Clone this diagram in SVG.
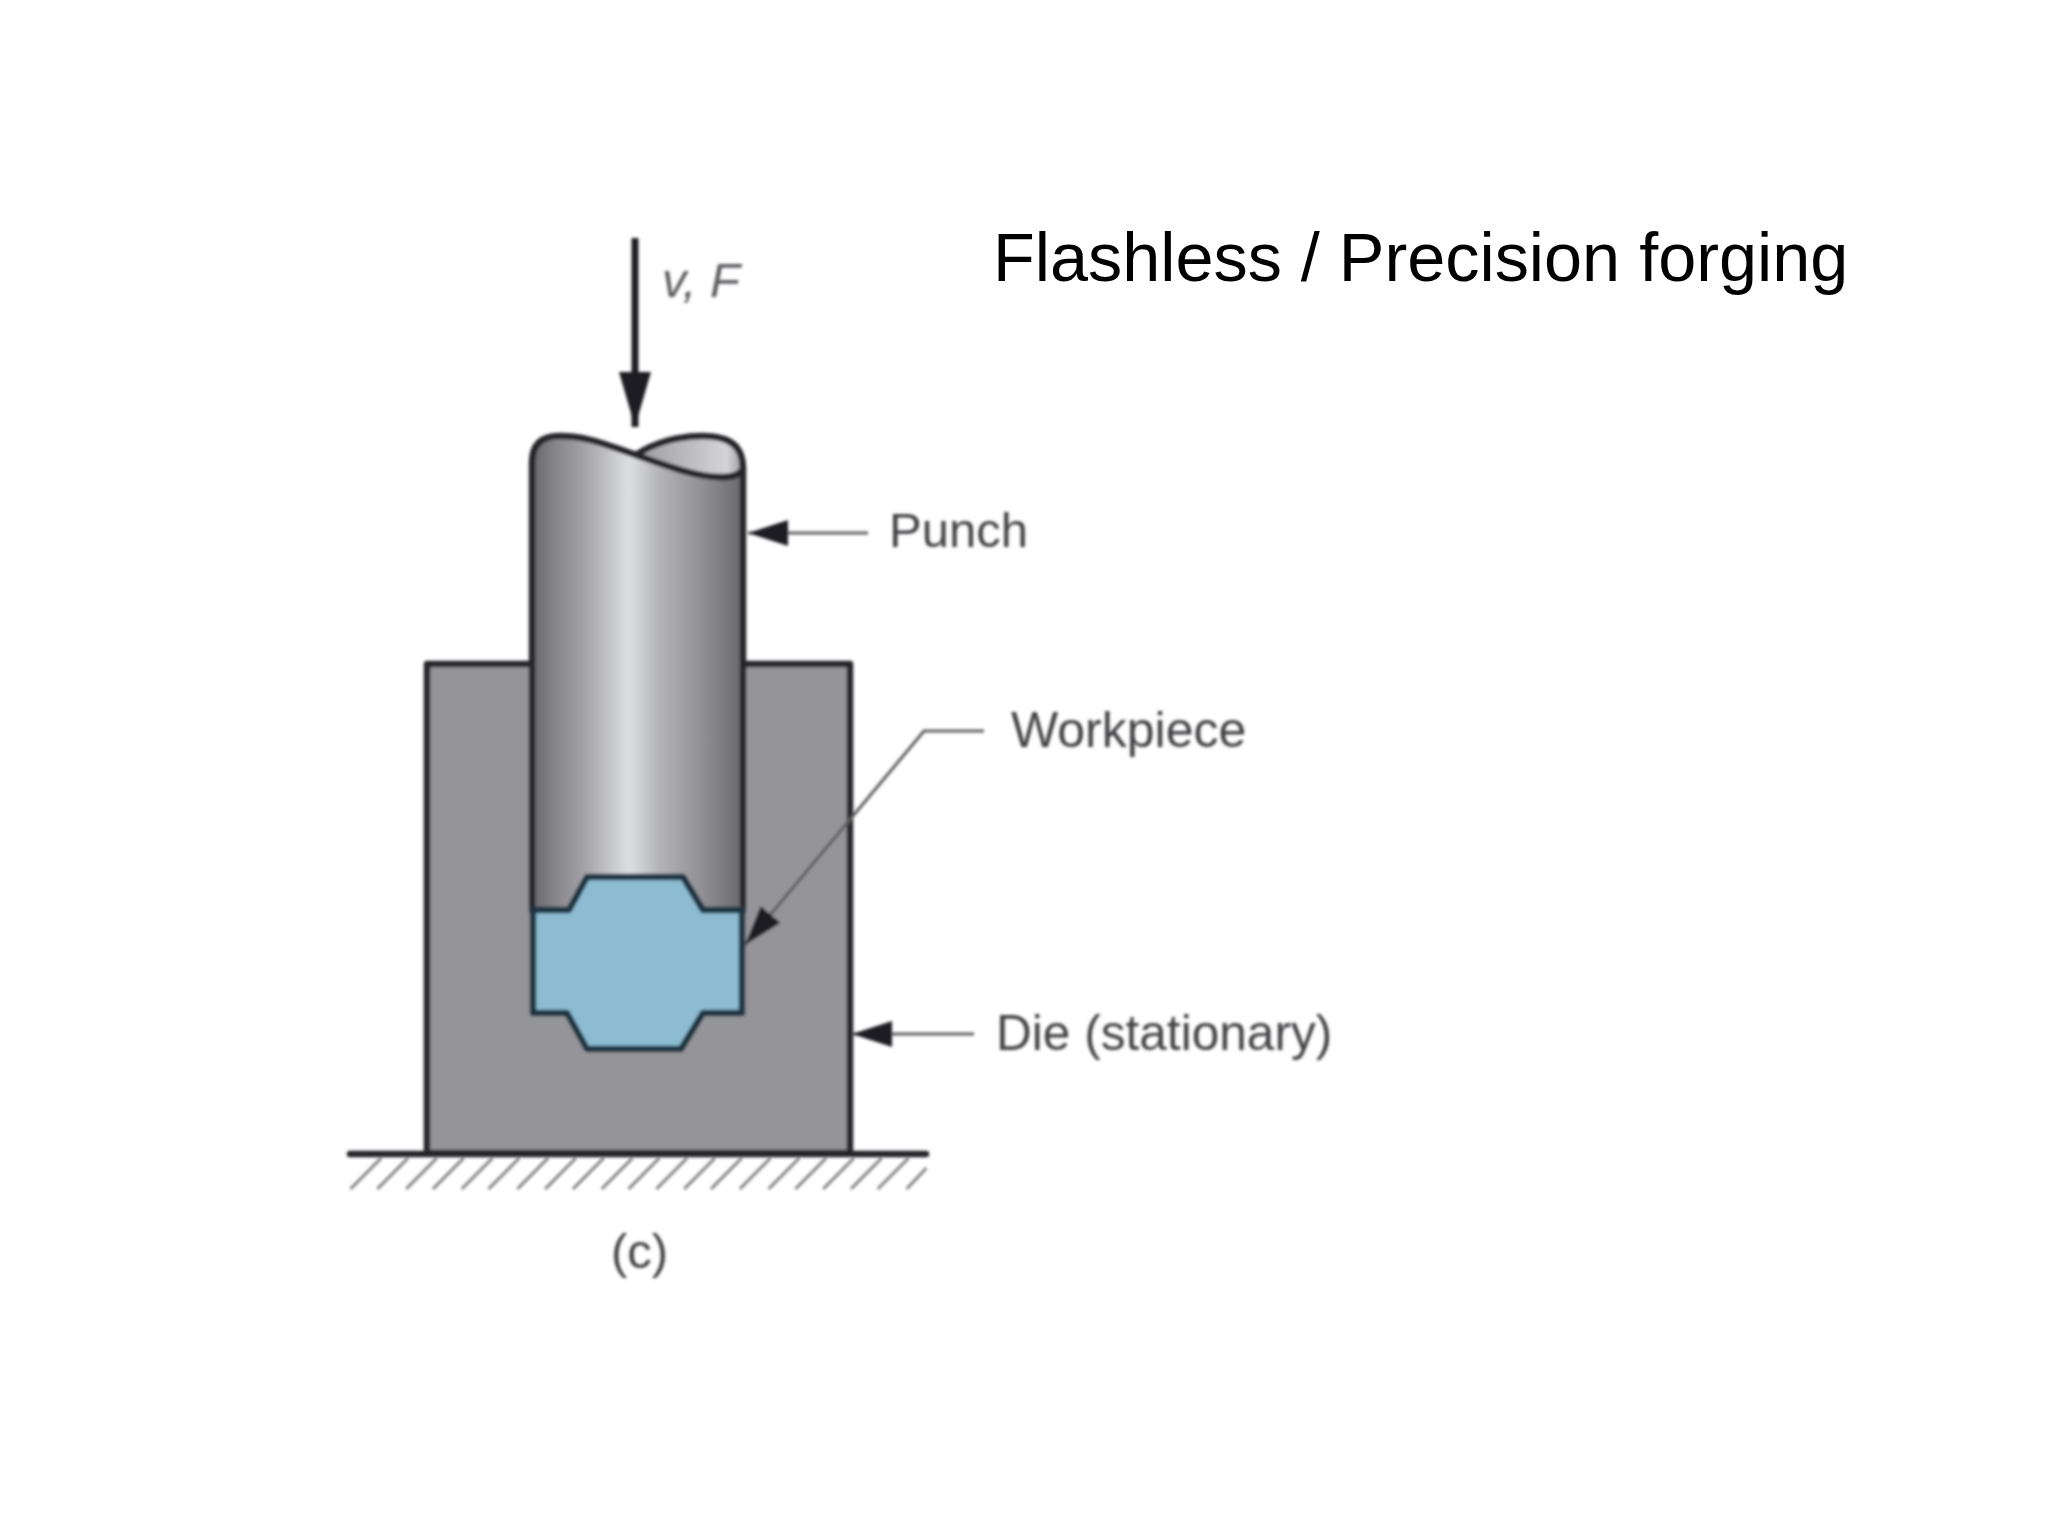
<svg xmlns="http://www.w3.org/2000/svg" width="2048" height="1536" viewBox="0 0 2048 1536">
<style>
.lbl{font-family:"Liberation Sans",Arial,sans-serif;font-size:49px;fill:#424244}
.title{font-family:"Liberation Sans",Arial,sans-serif;font-size:68.4px;fill:#000}
.edge{stroke:#26272b;stroke-width:6.5;stroke-linejoin:round;stroke-linecap:round}
.lead{fill:none;stroke:#5e5e61;stroke-width:3}
.hatch{stroke:#808082;stroke-width:3;fill:none}
</style>
<defs>
<linearGradient id="steel" x1="0" y1="0" x2="1" y2="0">
<stop offset="0" stop-color="#66666b"/>
<stop offset="0.1" stop-color="#828287"/>
<stop offset="0.25" stop-color="#a3a3a8"/>
<stop offset="0.46" stop-color="#dedfe2"/>
<stop offset="0.6" stop-color="#b4b4b9"/>
<stop offset="0.85" stop-color="#87878c"/>
<stop offset="1" stop-color="#68686d"/>
</linearGradient>
<linearGradient id="lobe" x1="0" y1="0" x2="1" y2="0">
<stop offset="0" stop-color="#9c9ca0"/>
<stop offset="0.85" stop-color="#d4d4d6"/>
<stop offset="1" stop-color="#9a9a9e"/>
</linearGradient>
<filter id="soft" x="-5%" y="-5%" width="110%" height="110%"><feGaussianBlur stdDeviation="1.4"/></filter>
<marker id="head" markerUnits="userSpaceOnUse" markerWidth="42" markerHeight="30" refX="40" refY="15" orient="auto">
<path d="M0 2 L40 15 L0 28 Z" fill="#1f1f22"/>
</marker>
<marker id="headBig" markerUnits="userSpaceOnUse" markerWidth="56" markerHeight="36" refX="55" refY="18" orient="auto">
<path d="M0 2 L55 18 L0 34 Z" fill="#1f1f22"/>
</marker>
</defs>
<rect width="2048" height="1536" fill="#ffffff"/>
<g filter="url(#soft)">
<g id="ground" transform="translate(0,-4)">
<line class="edge" x1="350" y1="1158" x2="926" y2="1158"/>
<path class="hatch" transform="translate(-1,0) scale(0.993,1) translate(3,0)" d="M382 1162 L351 1193 M409 1162 L378 1193 M438 1162 L407 1193 M465 1162 L434 1193 M494 1162 L463 1193 M521 1162 L490 1193 M550 1162 L519 1193 M578 1162 L547 1193 M606 1162 L575 1193 M635 1162 L604 1193 M662 1162 L631 1193 M690 1162 L659 1193 M718 1162 L687 1193 M745 1162 L714 1193 M774 1162 L743 1193 M803 1162 L772 1193 M830 1162 L799 1193 M858 1162 L827 1193 M886 1162 L855 1193 M913 1162 L882 1193 M931 1172 L911 1193"/>
</g>
<g id="die" transform="translate(-3,-4)">
<rect class="edge" x="430" y="668" width="423" height="489" fill="#949499"/>
</g>
<g id="punch" transform="translate(-3,-4)">
<path class="edge" d="M535 915 V467 Q535 440 562 440 C592 440 612 450 639 459 C668 469 698 481 725 481 Q742 481 746 473 V915 Z" fill="url(#steel)"/>
<path class="edge" d="M639 459 C658 446 683 440 705 440 C733 440 746 450 746 473 Q742 481 725 481 C698 481 668 469 639 459 Z" fill="url(#lobe)"/>
</g>
<g id="workpiece" transform="translate(-3,-4)">
<path d="M536 914 H572 L590 881 H686 L706 914 H745 V1017 H706 L684 1053 H590 L570 1017 H536 Z" fill="#8dbcd2" stroke="#1d3442" stroke-width="6.5" stroke-linejoin="round"/>
</g>
<g id="connectors" transform="translate(-3,-4)">
<line x1="638" y1="242" x2="638" y2="431" stroke="#1f1f22" stroke-width="7" marker-end="url(#headBig)"/>
<line class="lead" x1="871" y1="537" x2="751" y2="537" marker-end="url(#head)"/>
<path class="lead" d="M987 735 H927 L748 949" marker-end="url(#head)"/>
<line class="lead" x1="977" y1="1038" x2="855" y2="1038" marker-end="url(#head)"/>
</g>
<g id="labels" transform="translate(-3,-4)">
<text class="lbl" x="665" y="301" font-style="italic" fill-opacity="0.85">v, F</text>
<text class="lbl" x="892" y="551">Punch</text>
<text class="lbl" x="1014" y="751" style="font-size:50px">Workpiece</text>
<text class="lbl" x="999" y="1054" style="font-size:49.6px">Die (stationary)</text>
<text class="lbl" x="614" y="1272">(c)</text>
</g>
</g>
<g id="title">
<text class="title" x="993" y="281">Flashless / Precision forging</text>
</g>
</svg>
